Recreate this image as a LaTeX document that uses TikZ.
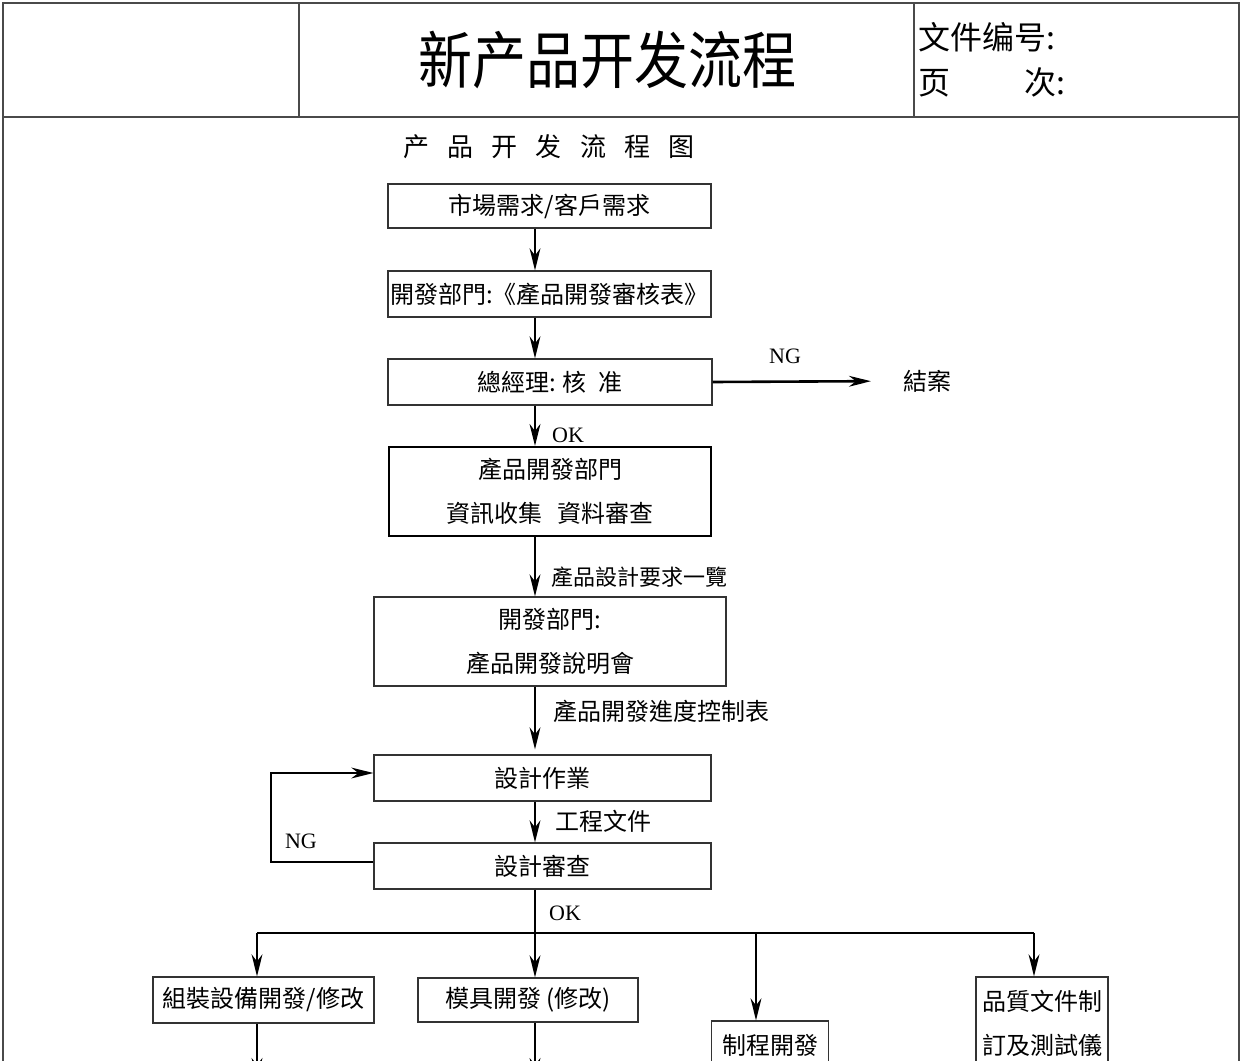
\documentclass[tikz,border=0pt]{standalone}
\usepackage{fontspec}
\setmainfont{Liberation Serif}
\newfontfamily\cjk{Noto Sans CJK TC}
\newfontfamily\cjksc{Noto Sans CJK SC}
\usetikzlibrary{arrows.meta}

\begin{document}
\begin{tikzpicture}[x=.5pt, y=-.5pt]
  % Colors
  \definecolor{blank}{HTML}{ffffff}
  \definecolor{outline}{HTML}{000000}
  \definecolor{frame}{HTML}{4a4a4a}
  \definecolor{boxline}{HTML}{333333}

  % Configurations
  \tikzset{
    stepbox/.style={draw=boxline, line width=.6pt, inner sep=0pt, align=center,
      font=\cjk\fontsize{12}{22}\selectfont},
    flow/.style={draw=outline, line width=1.3pt,
      -{Stealth[length=11pt, width=5.4pt, inset=3.5pt]}},
    wire/.style={draw=outline, line width=1.1pt},
    tag/.style={inner sep=0pt, font=\fontsize{11}{13}\selectfont},
    note/.style={inner sep=0pt, anchor=west, font=\cjk\fontsize{12}{14}\selectfont}
  }

  % Bounding box
  \useasboundingbox (0,0) rectangle (1242,1060);
  \clip [preaction={fill=blank}] (0,0) rectangle (1242,1060);

  % Header
  \draw [draw=frame, line width=1pt] (3,1080) -- (3,3) -- (1239,3) -- (1239,1080);
  \draw [draw=frame, line width=1.1pt] (3,117) -- (1239,117);
  \draw [draw=frame, line width=.6pt] (299,3) -- (299,117);
  \draw [draw=frame, line width=.6pt] (914,3) -- (914,117);
  \node (title) at (607,60) {\cjksc\fontsize{27}{30}\selectfont\scalebox{1}[1.15]{新产品开发流程}};
  \node [anchor=west, inner sep=0pt] (docno) at (918,37) {\cjksc\fontsize{16}{18}\selectfont 文件编号:};
  \node [anchor=west, inner sep=0pt] (pageno) at (918,82) {\cjksc\fontsize{16}{18}\selectfont 页\hspace{2.3em}次:};
  \node (chart) at (549,147) {\cjksc\fontsize{13}{15}\selectfont
    产\hspace{.7em}品\hspace{.7em}开\hspace{.7em}发\hspace{.7em}流\hspace{.7em}程\hspace{.7em}图};

  % Steps
  \coordinate (spine) at (535,0);
  \node [stepbox, minimum width=161.5pt, minimum height=22pt] (need) at (549.5,206) {市場需求/客戶需求};
  \node [stepbox, minimum width=161.5pt, minimum height=23pt] (form) at (549.5,294) {開發部門:《產品開發審核表》};
  \node [stepbox, minimum width=162pt, minimum height=23pt] (approve) at (550,382) {總經理: 核\hspace{.5em}准};
  \node [stepbox, draw=outline, line width=1pt, minimum width=161pt, minimum height=44.5pt] (collect) at (550,491.5)
    {產品開發部門\\資訊收集\hspace{.6em}資料審查};
  \node [stepbox, minimum width=176pt, minimum height=44.5pt] (brief) at (550,641.5) {開發部門:\\產品開發說明會};
  \node [stepbox, minimum width=168.5pt, minimum height=23pt] (design) at (542.5,778) {設計作業};
  \node [stepbox, minimum width=168.5pt, minimum height=23pt] (review) at (542.5,866) {設計審查};
  \node [note] (close) at (903,381) {結案};

  % Branches
  \node [stepbox, minimum width=110.5pt, minimum height=23pt] (rig) at (263.5,1000) {組裝設備開發/修改};
  \node [stepbox, minimum width=110pt, minimum height=22pt] (mold) at (528,1000) {模具開發 (修改)};
  \node [stepbox, minimum width=58.5pt, minimum height=24pt] (process) at (770,1045) {制程開發};
  \node [stepbox, minimum width=66pt, minimum height=46pt] (quality) at (1042,1023) {品質文件制\\訂及測試儀};

  % Main flow
  \draw [flow] (need.south -| spine) -- (form.north -| spine);
  \draw [flow] (form.south -| spine) -- (approve.north -| spine);
  \draw [flow] (approve.south -| spine) -- (collect.north -| spine);
  \node [tag] (ok1) at (568,435) {OK};
  \draw [flow] (collect.south -| spine) -- (brief.north -| spine);
  \node [note, font=\cjk\fontsize{11}{13}\selectfont] (reqlist) at (551,577) {產品設計要求一覽};
  \draw [flow] (brief.south -| spine) -- ([yshift=2.5pt]design.north -| spine);
  \node [note] (schedule) at (553,711) {產品開發進度控制表};
  \draw [flow] (design.south -| spine) -- (review.north -| spine);
  \node [note] (drawings) at (555,821) {工程文件};

  % NG returns
  \draw [flow, shorten >=16pt] (approve.east) -- (close.west);
  \node [tag] (ng1) at (785,356) {NG};
  \coordinate (back) at (271,0);
  \coordinate (rw) at ([yshift=2pt]review.west);
  \coordinate (dw) at ([yshift=2.5pt]design.west);
  \draw [flow] (rw) -- (rw -| back) |- (dw);
  \node [tag] (ng2) at (301,841) {NG};

  % Split
  \coordinate (bus) at (535,933);
  \coordinate (d1) at (257,933);
  \coordinate (d3) at (756,933);
  \coordinate (d4) at (1034,933);
  \draw [flow] (review.south -| spine) -- (mold.north -| spine);
  \node [tag] (ok2) at (565,913) {OK};
  \draw [wire] (d1) -- (d4);
  \draw [flow] (d1) -- (rig.north -| d1);
  \draw [flow] (d3) -- (process.north -| d3);
  \draw [flow] (d4) -- (quality.north -| d4);
  \coordinate (below) at (0,1080);
  \draw [flow] (rig.south -| d1) -- (below -| d1);
  \draw [flow] (mold.south -| spine) -- (below -| spine);
\end{tikzpicture}
\end{document}
